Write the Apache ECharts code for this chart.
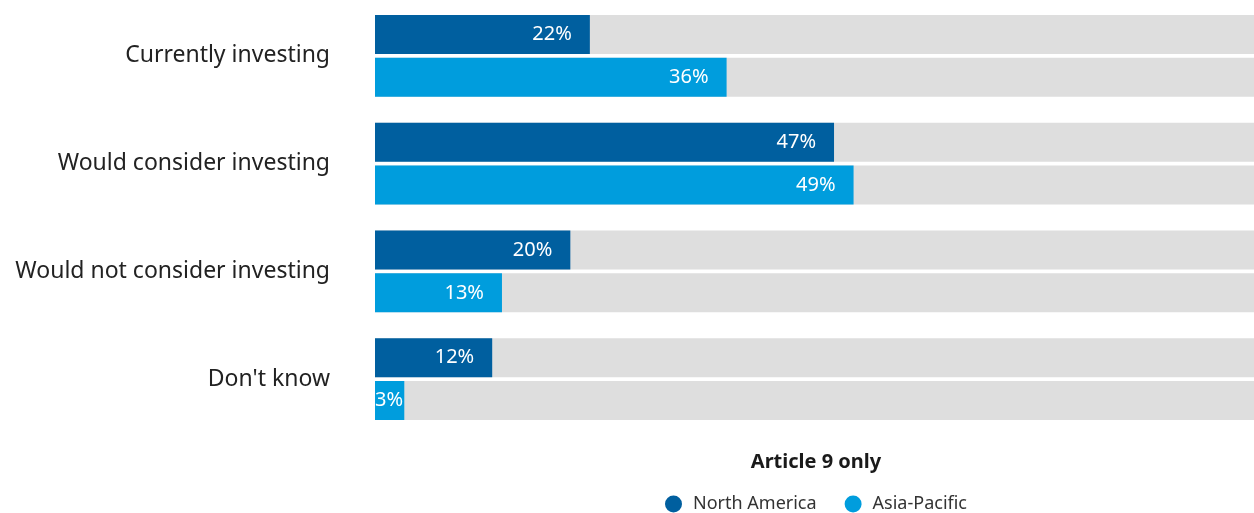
<!DOCTYPE html>
<html>
<head>
<meta charset="utf-8">
<script src="https://cdn.jsdelivr.net/npm/echarts@6/dist/echarts.min.js"></script>
<style>
  html, body { margin: 0; padding: 0; background: #ffffff; }
  #chart { width: 1254px; height: 513px; }
</style>
</head>
<body>
<div id="chart"></div>
<script>
// Survey responses, percent of respondents
const categories = ['Currently investing', 'Would consider investing', 'Would not consider investing', "Don't know"];
const northAmerica = [22, 47, 20, 12];
const asiaPacific = [36, 49, 13, 3];
const seriesNames = ['North America', 'Asia-Pacific'];
const chartTitle = 'Article 9 only';

const FONT = '"Noto Sans", "Open Sans", sans-serif';
const colors = ['#005f9f', '#009ddd'];

// Very short bars keep their label anchored at the bar start
function buildData(values) {
  return values.map(v => v < 6
    ? { value: v, label: { position: 'insideLeft', distance: 0 } }
    : v);
}

const label = {
  show: true,
  position: 'insideRight',
  distance: 18,
  color: '#ffffff',
  fontFamily: FONT,
  fontSize: 20,
  fontWeight: 'normal',
  formatter: p => p.value + '%'
};

const chart = echarts.init(document.getElementById('chart'), null, { renderer: 'canvas' });
chart.setOption({
  animation: false,
  color: colors,
  title: {
    text: chartTitle,
    left: 816,
    top: 452,
    padding: 0,
    textAlign: 'center',
    textStyle: { fontFamily: FONT, fontSize: 20, fontWeight: 'bold', color: '#1a1a1a' }
  },
  legend: {
    data: seriesNames,
    left: 665,
    top: 495,
    padding: 0,
    icon: 'circle',
    itemWidth: 17,
    itemHeight: 17,
    itemGap: 28,
    textStyle: { fontFamily: FONT, fontSize: 18, color: '#333333', padding: [0, 0, 0, 6] }
  },
  grid: { left: 375, right: 0, top: 2, bottom: 80 },
  xAxis: {
    type: 'value',
    min: 0,
    max: 90,
    show: false
  },
  yAxis: {
    type: 'category',
    data: categories,
    inverse: true,
    axisLine: { show: false },
    axisTick: { show: false },
    axisLabel: {
      margin: 45,
      fontFamily: FONT,
      fontSize: 23,
      color: '#222222',
      padding: [0, 0, 8, 0]
    }
  },
  series: [
    {
      name: seriesNames[0],
      type: 'bar',
      data: buildData(northAmerica),
      barWidth: 39,
      barGap: '10%',
      showBackground: true,
      backgroundStyle: { color: '#dedede' },
      label: label
    },
    {
      name: seriesNames[1],
      type: 'bar',
      data: buildData(asiaPacific),
      barWidth: 39,
      barGap: '10%',
      showBackground: true,
      backgroundStyle: { color: '#dedede' },
      label: label
    }
  ]
});
</script>
</body>
</html>
